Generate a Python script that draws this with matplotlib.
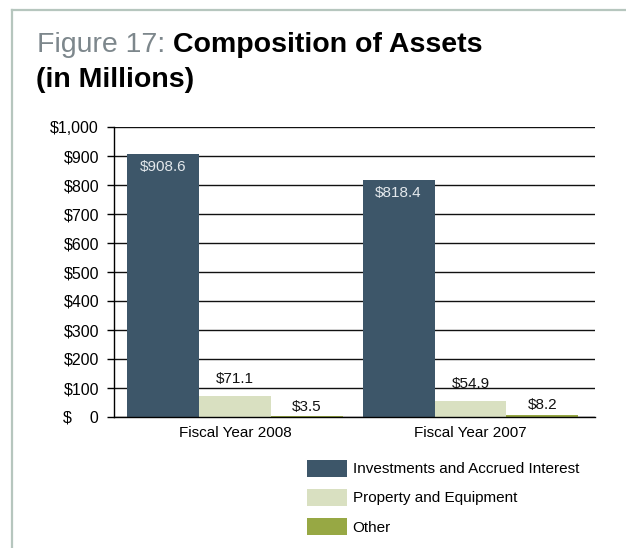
import numpy as np
import matplotlib
matplotlib.use("Agg")
import matplotlib.pyplot as plt
from matplotlib.patches import Patch
from matplotlib.lines import Line2D

# ------------------ Data ------------------
years = ["Fiscal Year 2008", "Fiscal Year 2007"]
series = ["Investments and Accrued Interest", "Property and Equipment", "Other"]
investments = [908.6, 818.4]
property_eq = [71.1, 54.9]
other = [3.5, 8.2]
yticks = [0, 100, 200, 300, 400, 500, 600, 700, 800, 900, 1000]

colors = ["#3d5669", "#d9e0c1", "#97a844"]

plt.rcParams["font.family"] = ["Liberation Sans", "DejaVu Sans"]
fs = 11

fig = plt.figure(figsize=(6.26, 5.48), dpi=100)
ax = fig.add_axes([114 / 626, 131 / 548, 481 / 626, 290 / 548])

x = np.arange(len(years))
w = 0.305
values = [investments, property_eq, other]
# label offsets (points) relative to the bar top
offsets = [-9.9, 12.2, 6.8]
for i, (vals, col) in enumerate(zip(values, colors)):
    bars = ax.bar(x + (i - 1) * w, vals, width=w, color=col, zorder=3)
    tc = "#e3e8ec" if i == 0 else "#111111"
    for b, v in zip(bars, vals):
        cx = b.get_x() + b.get_width() / 2
        ax.annotate(f"${v:.1f}", (cx, v), xytext=(0, offsets[i]), textcoords="offset points",
                    ha="center", va="center", color=tc, fontsize=fs, zorder=4)

ax.set_xlim(-0.514, 1.529)
ax.set_ylim(0, 1000)
ax.set_yticks(yticks)
ax.set_yticklabels(["$    0"] + [f"${t:,}" for t in yticks[1:]], fontsize=11.5)
ax.set_xticks(x)
ax.set_xticklabels(years, fontsize=fs)
ax.tick_params(axis="x", length=0, pad=6.5)
ax.tick_params(axis="y", length=4.8, width=1.0, color="black", pad=6)
ax.yaxis.grid(True, color="#111111", linewidth=1.0, zorder=0)
for s in ["top", "right"]:
    ax.spines[s].set_visible(False)
ax.spines["left"].set_linewidth(1.0)
ax.spines["bottom"].set_linewidth(1.0)
ax.spines["bottom"].set_zorder(5)

# legend
handles = [Patch(facecolor=c, edgecolor="none") for c in colors]
fig.legend(handles, series, loc="upper left", bbox_to_anchor=(307.3 / 626, 1 - 459.7 / 548),
           frameon=False, fontsize=fs, handlelength=2.58, handleheight=1.35,
           handletextpad=0.39, labelspacing=0.78, borderpad=0, borderaxespad=0)

# title
tsize = 20.5
t1 = fig.text(37 / 626, 1 - 52.3 / 548, "Figure 17: ", fontsize=tsize, color="#7d878c",
              va="baseline")
fig.canvas.draw()
x2 = t1.get_window_extent().x1 / fig.bbox.width
fig.text(x2, 1 - 52.3 / 548, "Composition of Assets", fontsize=tsize, fontweight="bold",
         color="black", va="baseline")
fig.text(36 / 626, 1 - 86.7 / 548, "(in Millions)", fontsize=tsize, fontweight="bold",
         color="black", va="baseline")

# frame lines
fig.add_artist(Line2D([12 / 626, 12 / 626], [0, 1 - 10 / 548], transform=fig.transFigure,
                      color="#b6c6be", linewidth=1.6))
fig.add_artist(Line2D([12 / 626, 1], [1 - 10 / 548, 1 - 10 / 548], transform=fig.transFigure,
                      color="#b6c6be", linewidth=1.6))

fig.savefig("out.png", dpi=100)
